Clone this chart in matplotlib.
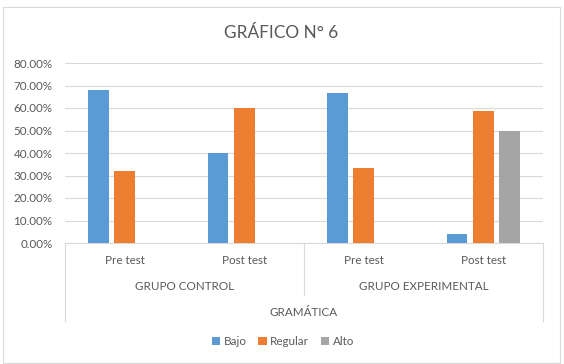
import matplotlib
matplotlib.use("Agg")
import matplotlib.pyplot as plt
import matplotlib.transforms as mtransforms
from matplotlib.patches import Patch, Rectangle
from matplotlib.lines import Line2D

plt.rcParams['font.family'] = ['Lato', 'DejaVu Sans']

title = "GRÁFICO N° 6"
tests = ["Pre test", "Post test", "Pre test", "Post test"]
groups = ["GRUPO CONTROL", "GRUPO EXPERIMENTAL"]
top_label = "GRAMÁTICA"
series_names = ["Bajo", "Regular", "Alto"]
bajo = [0.68, 0.40, 0.6667, 0.0417]
regular = [0.32, 0.60, 0.3333, 0.586]
alto = [0.0, 0.0, 0.0, 0.50]
yticks = [0.0, 0.1, 0.2, 0.3, 0.4, 0.5, 0.6, 0.7, 0.8]

colors = ["#5B9BD5", "#ED7D31", "#A5A5A5"]
txt = "#595959"
grid = "#D9D9D9"

W, H = 564, 364
fig = plt.figure(figsize=(W / 100, H / 100), dpi=100)
fig.patch.set_facecolor("white")

# chart border
fig.add_artist(Rectangle((3 / W, 1 - 362.5 / H), (559.5 - 3) / W, (362.5 - 7) / H,
                         transform=fig.transFigure, fill=False, edgecolor=grid, linewidth=0.8))

L, R, T, B = 65, 543, 63, 243
ax = fig.add_axes([L / W, 1 - B / H, (R - L) / W, (B - T) / H])

x = list(range(len(tests)))
bw = 0.172
off = 0.22
for i, (vals, c) in enumerate(zip([bajo, regular, alto], colors)):
    ax.bar([xi + (i - 1) * off for xi in x], vals, width=bw, color=c, linewidth=0, zorder=3)

ax.set_xlim(-0.5, len(tests) - 0.5)
ax.set_ylim(0, 0.8)
ax.set_yticks(yticks)
ax.set_yticklabels([f"{v * 100:.2f}%" for v in yticks], color=txt, fontsize=8.4)
ax.tick_params(axis='y', length=0, pad=9)
ax.set_xticks([])
ax.grid(axis='y', color=grid, linewidth=0.8, zorder=0)
for s in ["top", "right", "left"]:
    ax.spines[s].set_visible(False)
ax.spines["bottom"].set_color(grid)
ax.spines["bottom"].set_linewidth(0.8)

tr = mtransforms.blended_transform_factory(ax.transData, fig.transFigure)

def fy(py):
    return 1 - py / H

# hierarchical category labels
for xi, t in zip(x, tests):
    ax.text(xi, fy(261), t, transform=tr, ha='center', va='center', color=txt, fontsize=8.4)
for gi, g in enumerate(groups):
    ax.text(gi * 2 + 0.5, fy(286.5), g, transform=tr, ha='center', va='center', color=txt, fontsize=8.4)
ax.text(1.5, fy(312.5), top_label, transform=tr, ha='center', va='center', color=txt, fontsize=8.4)

# separator lines
for xv, ybot in [(-0.5, 321), (1.5, 295), (3.5, 321)]:
    fig.add_artist(Line2D([xv, xv], [fy(B), fy(ybot)], transform=tr, color=grid, linewidth=0.8))

fig.text(281.5 / W, fy(33.5), title, ha='center', va='center', color=txt, fontsize=12.4)

handles = [Patch(facecolor=c, edgecolor='none') for c in colors]
fig.legend(handles, series_names, loc='center', bbox_to_anchor=(283 / W, fy(341.5)), ncol=3,
           frameon=False, fontsize=8.4, handlelength=0.7, handleheight=0.7, handletextpad=0.3,
           columnspacing=1.0, labelcolor=txt)

fig.savefig("out.png", dpi=100, facecolor="white")
